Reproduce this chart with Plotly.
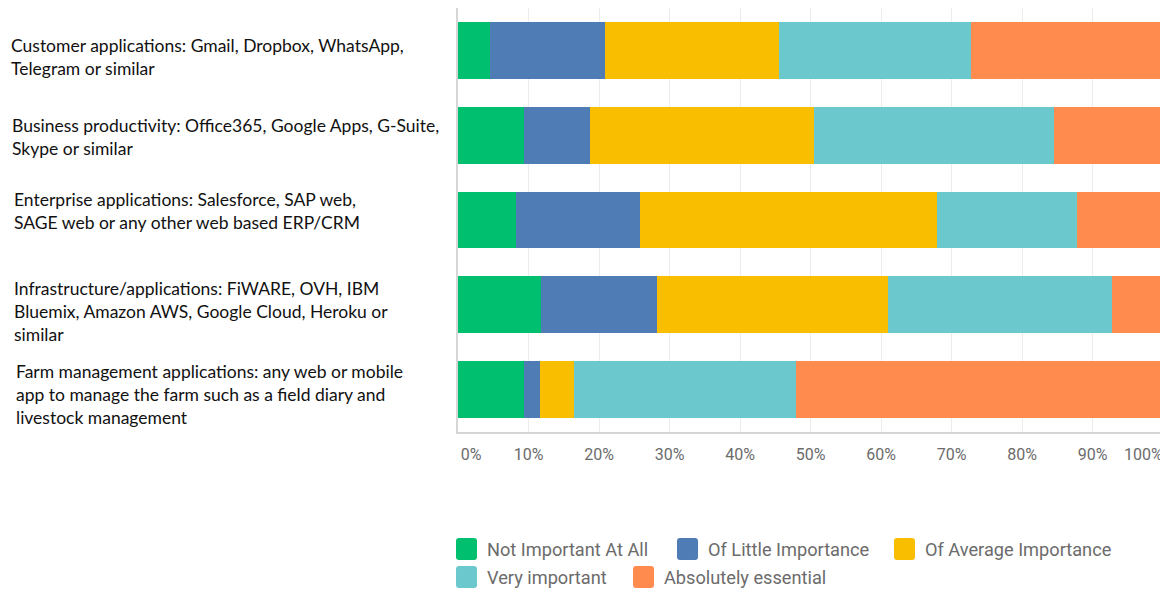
import plotly.graph_objects as go

# survey items (top to bottom)
categories = [
    "Customer applications: Gmail, Dropbox, WhatsApp,<br>Telegram or similar",
    "Business productivity: Office365, Google Apps, G-Suite,<br>Skype or similar",
    "Enterprise applications: Salesforce, SAP web,<br>SAGE web or any other web based ERP/CRM",
    "Infrastructure/applications: FiWARE, OVH, IBM<br>Bluemix, Amazon AWS, Google Cloud, Heroku or<br>similar",
    "Farm management applications: any web or mobile<br>app to manage the farm such as a field diary and<br>livestock management",
]

series_names = ["Not Important At All", "Of Little Importance", "Of Average Importance",
                "Very important", "Absolutely essential"]

# percentages
not_important = [4.5, 9.3, 8.2, 11.8, 9.3]
little_importance = [16.4, 9.4, 17.6, 16.4, 2.4]
average_importance = [24.7, 31.8, 42.2, 32.8, 4.7]
very_important = [27.1, 34.0, 19.8, 31.7, 31.6]
absolutely_essential = [27.3, 15.5, 12.2, 7.3, 52.0]

grid_vals = [0, 10, 20, 30, 40, 50, 60, 70, 80, 90, 100]
tick_text = ["0%", "10%", "20%", "30%", "40%", "50%", "60%", "70%", "80%", "90%", "100%"]
# the end labels sit inside the plot edges, as in the original survey export
label_pos = [1.85, 10, 20, 30, 40, 50, 60, 70, 80, 90, 97.2]

colors = ["#00BF6F", "#507CB6", "#F9BE00", "#6BC8CD", "#FF8B4F"]
values = [not_important, little_importance, average_importance, very_important, absolutely_essential]

fig = go.Figure()
for name, vals, c in zip(series_names, values, colors):
    fig.add_trace(go.Bar(y=categories, x=vals, name=name, orientation="h",
                         marker=dict(color=c, line=dict(width=0)), showlegend=False))
# empty trace so the label axis gets drawn
fig.add_trace(go.Scatter(x=[], y=[], xaxis="x2", showlegend=False, hoverinfo="skip"))

# page body has an 8px margin, so the figure is 8px smaller than the window
fig.update_layout(
    width=1160, height=582,
    template="none",
    barmode="stack", bargap=0.33,
    plot_bgcolor="white", paper_bgcolor="white",
    margin=dict(l=450, r=5, t=0, b=158),
    font=dict(family="Roboto", size=16, color="#6b6b6b"),
    xaxis=dict(range=[0, 100], tickvals=grid_vals, showticklabels=False, automargin=False,
               showgrid=True, gridcolor="#ececec", gridwidth=1, zeroline=False,
               showline=True, linecolor="#d6d6d6", linewidth=2, ticks=""),
    xaxis2=dict(range=[0, 100], overlaying="x", anchor="y", side="bottom",
                tickvals=label_pos, ticktext=tick_text, automargin=False,
                showgrid=False, zeroline=False, showline=False, ticks="",
                tickfont=dict(family="Roboto", size=16, color="#6b6b6b"), ticklabelstandoff=11),
    yaxis=dict(categoryorder="array", categoryarray=categories[::-1], automargin=False,
               showticklabels=False, showgrid=False, zeroline=False,
               showline=True, linecolor="#d6d6d6", linewidth=2, range=[-0.5, 4.5]),
)

# left-aligned category labels
label_shift = [(-449, -7), (-448, -2), (-446, 9), (-446, -7), (-444, -5)]
for cat, (dx, dy) in zip(categories, label_shift):
    fig.add_annotation(x=0, xref="paper", y=cat, yref="y", xshift=dx, yshift=dy,
                       text=cat, showarrow=False, xanchor="left", yanchor="middle", align="left",
                       font=dict(family="Lato", size=17.5, color="#111111"))

# legend below the chart: swatch + label, two rows
legend_pos = [(-2, -117), (219, -117), (436, -117), (-2, -145), (175, -145)]
for name, c, (px, py) in zip(series_names, colors, legend_pos):
    x0, x1, y0, y1, r = px, px + 21, py - 11, py + 11, 3
    path = (f"M{x0+r},{y0} L{x1-r},{y0} Q{x1},{y0} {x1},{y0+r} L{x1},{y1-r} Q{x1},{y1} {x1-r},{y1} "
            f"L{x0+r},{y1} Q{x0},{y1} {x0},{y1-r} L{x0},{y0+r} Q{x0},{y0} {x0+r},{y0} Z")
    fig.add_shape(type="path", path=path, xref="paper", yref="paper",
                  xsizemode="pixel", ysizemode="pixel", xanchor=0, yanchor=0,
                  fillcolor=c, line=dict(width=0))
    fig.add_annotation(x=0, xref="paper", y=0, yref="paper", xshift=px + 29, yshift=py,
                       text=name, showarrow=False, xanchor="left", yanchor="middle",
                       font=dict(family="Roboto", size=18.2, color="#6b6b6b"))

fig.write_html("out.html")
